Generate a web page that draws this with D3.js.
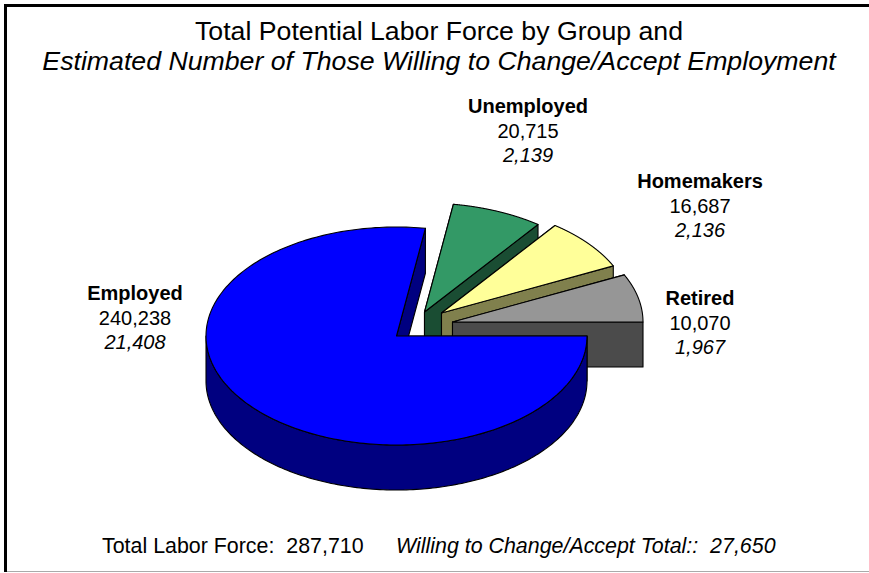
<!DOCTYPE html>
<html>
<head>
<meta charset="utf-8">
<script src="https://cdnjs.cloudflare.com/ajax/libs/d3/7.8.5/d3.min.js"></script>
<style>
html,body{margin:0;padding:0;background:#fff;overflow:hidden}
svg{display:block}
text{font-family:"Liberation Sans",Arial,sans-serif;fill:#000}
</style>
</head>
<body>
<svg id="chart" width="869" height="573"></svg>
<script>
// Data
const categories = ["Employed", "Unemployed", "Homemakers", "Retired"];
const laborForce = [240238, 20715, 16687, 10070];
const willing = [21408, 2139, 2136, 1967];
const titleLines = ["Total Potential Labor Force by Group and",
  "Estimated Number of Those Willing to Change/Accept Employment"];
const footerLeft = "Total Labor Force:  287,710";
const footerRight = "Willing to Change/Accept Total::  27,650";

// Layout and styles
const W = 869, H = 573;
const cx = 396.5, cy = 336, rx = 190.5, ry = 109, depth = 45;
const topColors = ["#0000ff", "#339966", "#ffff99", "#969696"];
const sideColors = ["#000080", "#1a4d33", "#80804d", "#4b4b4b"];
const explode = [[0, 0], [28, -24], [45, -23], [56, -14]];
const labelPos = [[135, 300], [528, 113], [700, 188], [700, 305]];
const fmt = d3.format(",");

const svg = d3.select("#chart");
svg.append("rect").attr("width", W).attr("height", H).attr("fill", "#fff");

// Frame
svg.append("line").attr("x1", 4).attr("x2", W).attr("y1", 5.5).attr("y2", 5.5)
  .attr("stroke", "#000").attr("stroke-width", 3);
svg.append("line").attr("x1", 5.5).attr("x2", 5.5).attr("y1", 4).attr("y2", 572)
  .attr("stroke", "#000").attr("stroke-width", 3);
svg.append("line").attr("x1", 7).attr("x2", W).attr("y1", 571.5).attr("y2", 571.5)
  .attr("stroke", "#aaa").attr("stroke-width", 1);

// Title
svg.append("text").attr("x", 439).attr("y", 40).attr("text-anchor", "middle")
  .attr("font-size", 26.7).text(titleLines[0]);
svg.append("text").attr("x", 439).attr("y", 70).attr("text-anchor", "middle")
  .attr("font-size", 26.7).attr("font-style", "italic").text(titleLines[1]);

// Pie angles from the data: clockwise, beginning at the east edge
const pieGen = d3.pie().sort(null).startAngle(Math.PI / 2).endAngle(Math.PI / 2 + 2 * Math.PI);
const arcs = pieGen(willing);

const xs = d3.scaleLinear().domain([-1, 1]).range([cx - rx, cx + rx]);
const ys = d3.scaleLinear().domain([-1, 1]).range([cy - ry, cy + ry]);
const pt = (a, dx, dy, z) => [xs(Math.sin(a)) + dx, ys(-Math.cos(a)) + dy + z];
const line = d3.line();
const samples = (a0, a1, n) => d3.range(n + 1).map(i => a0 + (a1 - a0) * i / n);

const STROKE = { stroke: "#000", w: 1.1 };
function poly(points, fill) {
  svg.append("path").attr("d", line(points) + "Z").attr("fill", fill)
    .attr("stroke", STROKE.stroke).attr("stroke-width", STROKE.w).attr("stroke-linejoin", "round");
}

function drawSlice(i) {
  const a = arcs[i], [dx, dy] = explode[i];
  const c0 = [cx + dx, cy + dy], c1 = [cx + dx, cy + dy + depth];
  const p0 = pt(a.startAngle, dx, dy, 0), p1 = pt(a.endAngle, dx, dy, 0);
  const side = sideColors[i];
  // End-cut wall at the slice start
  poly([c0, p0, pt(a.startAngle, dx, dy, depth), c1], side);
  // End-cut wall at the slice end
  poly([c0, p1, pt(a.endAngle, dx, dy, depth), c1], side);
  // Outer curved wall where it faces the viewer (east through south to west)
  const lo = Math.max(a.startAngle, Math.PI / 2), hi = Math.min(a.endAngle, 1.5 * Math.PI);
  if (hi > lo) {
    const s = samples(lo, hi, 180);
    poly(s.map(t => pt(t, dx, dy, 0)).concat(s.slice().reverse().map(t => pt(t, dx, dy, depth))), side);
  }
  // Top face
  const top = [c0].concat(samples(a.startAngle, a.endAngle, 240).map(t => pt(t, dx, dy, 0)));
  poly(top, topColors[i]);
}
// Painter order: back slices first, the large front slice last
[1, 2, 3, 0].forEach(drawSlice);

// Data labels
categories.forEach((c, i) => {
  const [x, y] = labelPos[i];
  const t = svg.append("text").attr("text-anchor", "middle").attr("font-size", 20);
  t.append("tspan").attr("x", x).attr("y", y).attr("font-weight", "bold").text(c);
  t.append("tspan").attr("x", x).attr("y", y + 25).text(fmt(laborForce[i]));
  t.append("tspan").attr("x", x).attr("y", y + 49).attr("font-style", "italic").text(fmt(willing[i]));
});

// Footer
svg.append("text").attr("x", 102).attr("y", 553).attr("font-size", 21.4)
  .style("white-space", "pre").text(footerLeft);
svg.append("text").attr("x", 396).attr("y", 553).attr("font-size", 21.4).attr("font-style", "italic")
  .style("white-space", "pre").text(footerRight);
</script>
</body>
</html>
